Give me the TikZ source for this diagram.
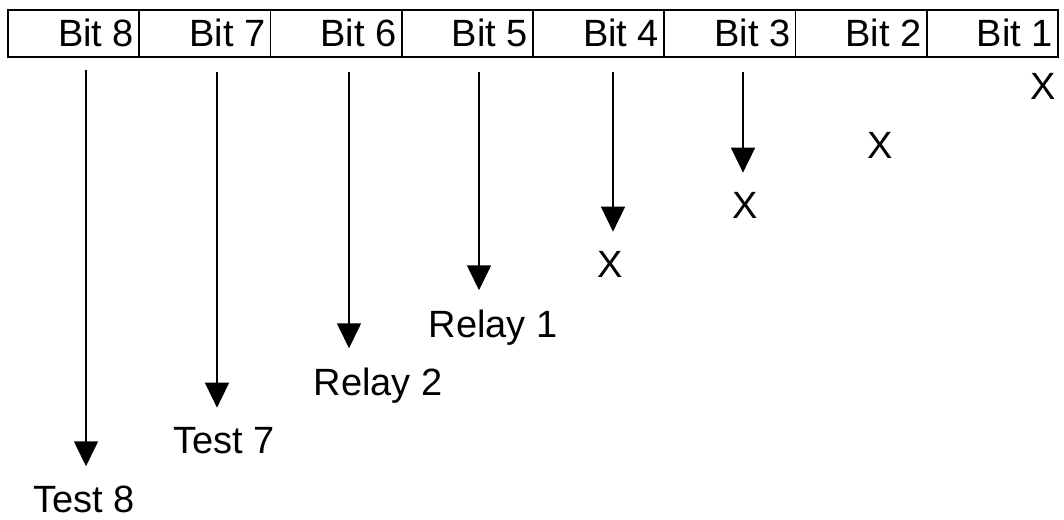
\documentclass[tikz,border=0pt]{standalone}
\usepackage{fontspec}
\setmainfont{Liberation Sans}
\usetikzlibrary{arrows.meta}
\begin{document}
\begin{tikzpicture}[x=1pt,y=-1pt,
  cellbox/.style={draw,line width=1.6pt,minimum width=131.25pt,minimum height=47pt,
    inner sep=0pt,outer sep=0pt,anchor=north west},
  bitlabel/.style={font=\fontsize{38}{45}\selectfont,inner sep=0pt,anchor=base east},
  lbl/.style={font=\fontsize{38}{45}\selectfont,inner sep=0pt,anchor=base},
  arr/.style={line width=1.6pt,-{Triangle[length=25pt,width=24pt]},shorten >=19pt}]
\useasboundingbox (0,0) rectangle (1064,519);
% register cells, Bit 8 on the left
\foreach \i/\n in {0/8,1/7,2/6,3/5,4/4,5/3,6/2,7/1}{
  \node[cellbox] (c\n) at ({8+\i*131.25},10) {};
  \node[bitlabel] (b\n) at ([xshift=-5pt]c\n.east |- 0,47) {Bit \n};
}
% outputs of each bit
\node[lbl] (l8) at (84,512) {Test 8};
\node[lbl] (l7) at (224,453) {Test 7};
\node[lbl] (l6) at (378,395) {Relay 2};
\node[lbl] (l5) at (493,337) {Relay 1};
\node[lbl] (l4) at (610,277) {X};
\node[lbl] (l3) at (745,218) {X};
\node[lbl] (l2) at (880,158) {X};
\node[lbl] (l1) at (1043,99) {X};
% arrow starts below the register
\coordinate (s8) at (86,70);
\coordinate (s7) at (217,72);
\coordinate (s6) at (349,72);
\coordinate (s5) at (479,72);
\coordinate (s4) at (613,72);
\coordinate (s3) at (743,72);
\foreach \n in {8,7,6,5,4,3}{
  \draw[arr] (s\n) -- (s\n |- l\n.north);
}
\end{tikzpicture}
\end{document}
